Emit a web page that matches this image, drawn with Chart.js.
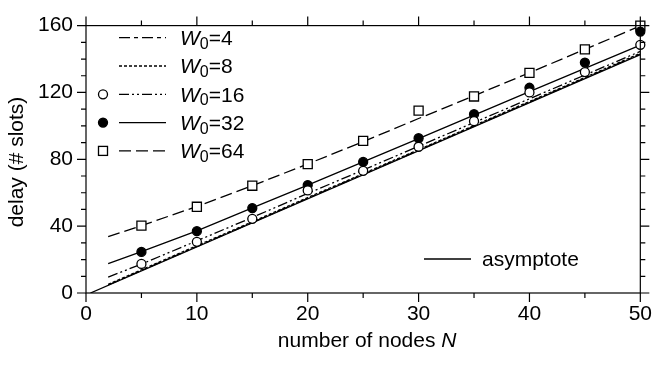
<!DOCTYPE html>
<html>
<head>
<meta charset="utf-8">
<script src="https://cdn.jsdelivr.net/npm/chart.js@4.4.0/dist/chart.umd.min.js"></script>
<style>
    html, body { margin: 0; padding: 0; background: #fff; }
</style>
</head>
<body>
<canvas id="delayChart" width="661" height="365"></canvas>
<script>
        // Analytical curves, read at these node counts
        const curveNodes = [2, 5, 10, 15, 20, 25, 30, 35, 40, 45, 50];
        const curveW4 = [4.8, 13.5, 27.9, 42.2, 56.7, 71.0, 85.4, 99.8, 114.2, 128.6, 143.0];
        const curveW8 = [5.2, 13.9, 28.3, 42.6, 57.1, 71.4, 85.8, 100.2, 114.6, 129.0, 143.5];
        const curveW16 = [9.5, 17.3, 31.2, 45.2, 59.6, 73.6, 87.8, 102.0, 116.2, 130.4, 144.6];
        const curveW32 = [17.6, 24.8, 37.2, 50.9, 64.6, 78.4, 92.4, 106.4, 120.5, 134.4, 148.3];
        const curveW64 = [33.7, 40.3, 51.8, 64.2, 77.2, 90.6, 104.4, 118.0, 131.8, 145.8, 159.8];

        // Asymptote end points
        const asymNodes = [0.4, 50];
        const asymDelay = [0, 142.6];

        // Simulation points
        const simNodes = [5, 10, 15, 20, 25, 30, 35, 40, 45, 50];
        const simW16 = [17.4, 30.6, 44.4, 61.4, 73.1, 87.5, 102.8, 120.0, 132.2, 148.5];
        const simW32 = [24.6, 37.0, 50.8, 64.6, 78.4, 92.6, 107.0, 122.8, 137.9, 156.4];
        const simW64 = [40.3, 51.6, 64.2, 77.1, 91.0, 109.1, 117.6, 131.7, 145.8, 160.0];

        // Axis ticks
        const xTicks = [0, 10, 20, 30, 40, 50];
        const xMinorTicks = [5, 15, 25, 35, 45];
        const yTicks = [0, 40, 80, 120, 160];
        const yMinorTicks = [10, 20, 30, 50, 60, 70, 90, 100, 110, 130, 140, 150];

        const FONT = '"Liberation Sans", Arial, Helvetica, sans-serif';

        function toPoints(xs, ys) {
            return xs.map((x, i) => ({ x: x, y: ys[i] }));
        }

        function curve(xs, ys, dash) {
            return {
                data: toPoints(xs, ys),
                borderColor: '#000',
                borderWidth: 1.3,
                borderDash: dash,
                pointRadius: 0,
                showLine: true,
                fill: false,
                tension: 0,
                order: 2
            };
        }

        function markers(xs, ys, style, radius, fillColor) {
            return {
                data: toPoints(xs, ys),
                showLine: false,
                pointStyle: style,
                pointRadius: radius,
                pointBorderWidth: 1.3,
                pointBorderColor: '#000',
                pointBackgroundColor: fillColor,
                clip: false,
                order: 1
            };
        }

        // Frame, ticks, legend and axis titles
        const decorations = {
            id: 'decorations',
            afterDraw(chart) {
                const ctx = chart.ctx;
                const area = chart.chartArea;
                const xs = chart.scales.x;
                const ys = chart.scales.y;
                ctx.save();
                ctx.strokeStyle = '#000';
                ctx.fillStyle = '#000';
                ctx.lineWidth = 1.2;
                ctx.setLineDash([]);
                ctx.strokeRect(area.left, area.top, area.right - area.left, area.bottom - area.top);

                function xTick(v, len) {
                    const px = xs.getPixelForValue(v);
                    ctx.beginPath();
                    ctx.moveTo(px, area.bottom); ctx.lineTo(px, area.bottom + len);
                    ctx.moveTo(px, area.top); ctx.lineTo(px, area.top - len);
                    ctx.stroke();
                }
                function yTick(v, len) {
                    const py = ys.getPixelForValue(v);
                    ctx.beginPath();
                    ctx.moveTo(area.left, py); ctx.lineTo(area.left - len, py);
                    ctx.moveTo(area.right, py); ctx.lineTo(area.right + len, py);
                    ctx.stroke();
                }
                xTicks.forEach(v => xTick(v, 9));
                xMinorTicks.forEach(v => xTick(v, 5));
                yTicks.forEach(v => yTick(v, 9));
                yMinorTicks.forEach(v => yTick(v, 5));

                // Legend
                const entries = [
                    { w: '4', dash: [11, 4, 4, 4], marker: null },
                    { w: '8', dash: [3, 2], marker: null },
                    { w: '16', dash: [10, 3, 2, 3, 2, 3], marker: 'open' },
                    { w: '32', dash: [], marker: 'filled' },
                    { w: '64', dash: [12, 5], marker: 'square' }
                ];
                ctx.textBaseline = 'middle';
                ctx.textAlign = 'left';
                entries.forEach((e, i) => {
                    const y = 37.7 + i * 28.3;
                    ctx.lineWidth = 1.3;
                    ctx.setLineDash(e.dash);
                    ctx.beginPath();
                    ctx.moveTo(119, y);
                    ctx.lineTo(166, y);
                    ctx.stroke();
                    ctx.setLineDash([]);
                    if (e.marker === 'open' || e.marker === 'filled') {
                        ctx.beginPath();
                        ctx.arc(103, y, 4.5, 0, Math.PI * 2);
                        ctx.fillStyle = e.marker === 'open' ? '#fff' : '#000';
                        ctx.fill();
                        ctx.stroke();
                        ctx.fillStyle = '#000';
                    } else if (e.marker === 'square') {
                        ctx.fillStyle = '#fff';
                        ctx.fillRect(98.5, y - 4.5, 9, 9);
                        ctx.strokeRect(98.5, y - 4.5, 9, 9);
                        ctx.fillStyle = '#000';
                    }
                    let tx = 180;
                    const ty = y + 1.5;
                    ctx.font = 'italic 21px ' + FONT;
                    ctx.fillText('W', tx, ty);
                    tx += ctx.measureText('W').width;
                    ctx.font = '16px ' + FONT;
                    ctx.fillText('0', tx, ty + 5);
                    tx += ctx.measureText('0').width;
                    ctx.font = '21px ' + FONT;
                    ctx.fillText('=' + e.w, tx, ty);
                });

                // Asymptote legend
                ctx.lineWidth = 1.3;
                ctx.beginPath();
                ctx.moveTo(424, 259);
                ctx.lineTo(471, 259);
                ctx.stroke();
                ctx.font = '21px ' + FONT;
                ctx.fillText('asymptote', 482, 260);

                // Axis titles
                const part1 = 'number of nodes ';
                ctx.font = '21px ' + FONT;
                const w1 = ctx.measureText(part1).width;
                ctx.font = 'italic 21px ' + FONT;
                const w2 = ctx.measureText('N').width;
                const cx = (area.left + area.right) / 2 + 4;
                let sx = cx - (w1 + w2) / 2;
                ctx.textBaseline = 'alphabetic';
                ctx.font = '21px ' + FONT;
                ctx.fillText(part1, sx, 347);
                ctx.font = 'italic 21px ' + FONT;
                ctx.fillText('N', sx + w1, 347);

                ctx.translate(17.5, 162);
                ctx.rotate(-Math.PI / 2);
                ctx.textAlign = 'center';
                ctx.textBaseline = 'middle';
                ctx.font = '21px ' + FONT;
                ctx.fillText('delay (# slots)', 0, 0);
                ctx.restore();
            }
        };

        function createDelayChart() {
            const ctx = document.getElementById('delayChart').getContext('2d');
            const delayChart = new Chart(ctx, {
                type: 'scatter',
                data: {
                    datasets: [
                        curve(curveNodes, curveW4, [11, 4, 4, 4]),
                        curve(curveNodes, curveW8, [3, 2]),
                        curve(curveNodes, curveW16, [10, 3, 2, 3, 2, 3]),
                        curve(curveNodes, curveW32, []),
                        curve(curveNodes, curveW64, [12, 5]),
                        curve(asymNodes, asymDelay, []),
                        markers(simNodes, simW16, 'circle', 4.5, '#fff'),
                        markers(simNodes, simW32, 'circle', 4.5, '#000'),
                        markers(simNodes, simW64, 'rect', 6.4, '#fff')
                    ]
                },
                options: {
                    responsive: false,
                    animation: false,
                    devicePixelRatio: 1,
                    layout: {
                        padding: { left: 0, top: 11, right: 12, bottom: 0 }
                    },
                    scales: {
                        x: {
                            type: 'linear',
                            min: 0,
                            max: 50,
                            grid: { display: false, drawTicks: false },
                            border: { display: false },
                            afterBuildTicks: function (scale) {
                                scale.ticks = xTicks.map(v => ({ value: v }));
                            },
                            afterFit: function (scale) {
                                scale.height = 72;
                            },
                            ticks: {
                                color: '#000',
                                padding: 9,
                                maxRotation: 0,
                                autoSkip: false,
                                font: { family: FONT, size: 21 }
                            }
                        },
                        y: {
                            type: 'linear',
                            min: 0,
                            max: 160,
                            grid: { display: false, drawTicks: false },
                            border: { display: false },
                            afterBuildTicks: function (scale) {
                                scale.ticks = yTicks.map(v => ({ value: v }));
                            },
                            afterFit: function (scale) {
                                scale.width = 86;
                            },
                            ticks: {
                                color: '#000',
                                padding: 13,
                                autoSkip: false,
                                font: { family: FONT, size: 21 }
                            }
                        }
                    },
                    plugins: {
                        legend: { display: false },
                        tooltip: { enabled: false }
                    }
                },
                plugins: [decorations]
            });
        }

        document.addEventListener('DOMContentLoaded', function () {
            createDelayChart();
        });
</script>
</body>
</html>
